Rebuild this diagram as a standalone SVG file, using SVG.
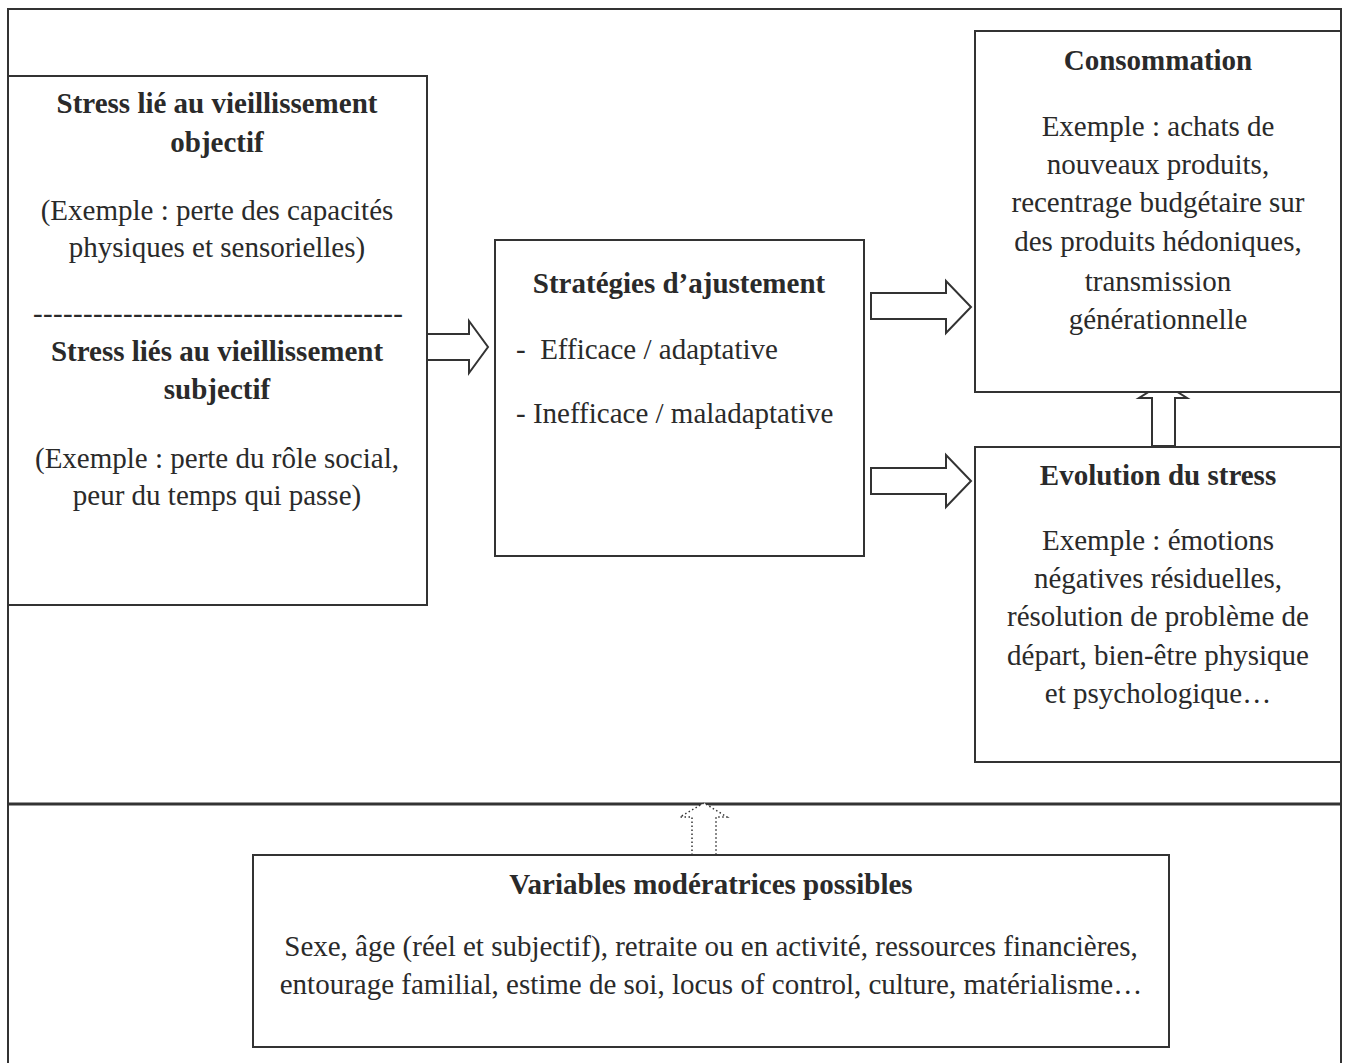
<svg xmlns="http://www.w3.org/2000/svg" width="1346" height="1063" viewBox="0 0 1346 1063">
<style>
.box{fill:#fff;stroke:#333;stroke-width:2}
.frame{fill:none;stroke:#333;stroke-width:2}
.arr{fill:#fff;stroke:#333;stroke-width:2;stroke-linejoin:miter}
.dot{fill:#fff;stroke:#333;stroke-width:1.5;stroke-dasharray:1.5 2.5}
text{font-family:"Liberation Serif","Times New Roman",serif;font-size:29px;fill:#2a2a2a}
.b{font-weight:bold}
.c{text-anchor:middle}
</style>
<rect width="1346" height="1063" fill="#fff"/>
<g id="frame">
<path class="frame" d="M8,1063 V9 H1341 V1063"/>
<line x1="8" y1="804" x2="1341" y2="804" stroke="#333" stroke-width="3"/>
</g>
<g id="connectors">
<polygon class="arr" points="412,334 469,334 469,321 488,347 469,373 469,360 412,360"/>
<polygon class="arr" points="871,293 946,293 946,281 971,307 946,333 946,319 871,319"/>
<polygon class="arr" points="871,468 946,468 946,455 971,481 946,507 946,494 871,494"/>
<polygon class="arr" points="1152,446 1152,398 1139,398 1163,383 1187,398 1175,398 1175,446"/>
<polygon class="dot" points="692,855 692,817 680,817 704,803 727,817 716,817 716,855"/>
</g>
<g id="stress">
<rect class="box" x="8" y="76" width="419" height="529"/>
<text class="b c" x="217" y="113">Stress lié au vieillissement</text>
<text class="b c" x="217" y="152">objectif</text>
<text class="c" x="217" y="220">(Exemple : perte des capacités</text>
<text class="c" x="217" y="257">physiques et sensorielles)</text>
<text x="33" y="323" textLength="370" lengthAdjust="spacing">-------------------------------------</text>
<text class="b c" x="217" y="361">Stress liés au vieillissement</text>
<text class="b c" x="217" y="399">subjectif</text>
<text class="c" x="217" y="468">(Exemple : perte du rôle social,</text>
<text class="c" x="217" y="505">peur du temps qui passe)</text>
</g>
<g id="strategies">
<rect class="box" x="495" y="240" width="369" height="316"/>
<text class="b c" x="679" y="293">Stratégies d’ajustement</text>
<text x="516" y="359" xml:space="preserve">-  Efficace / adaptative</text>
<text x="516" y="423">- Inefficace / maladaptative</text>
</g>
<g id="consommation">
<rect class="box" x="975" y="31" width="366" height="361"/>
<text class="b c" x="1158" y="70">Consommation</text>
<text class="c" x="1158" y="136">Exemple : achats de</text>
<text class="c" x="1158" y="174">nouveaux produits,</text>
<text class="c" x="1158" y="212">recentrage budgétaire sur</text>
<text class="c" x="1158" y="251">des produits hédoniques,</text>
<text class="c" x="1158" y="291">transmission</text>
<text class="c" x="1158" y="329">générationnelle</text>
</g>
<g id="evolution">
<rect class="box" x="975" y="447" width="366" height="315"/>
<text class="b c" x="1158" y="485">Evolution du stress</text>
<text class="c" x="1158" y="550">Exemple : émotions</text>
<text class="c" x="1158" y="588">négatives résiduelles,</text>
<text class="c" x="1158" y="626">résolution de problème de</text>
<text class="c" x="1158" y="665">départ, bien-être physique</text>
<text class="c" x="1158" y="703">et psychologique…</text>
</g>
<g id="variables">
<rect class="box" x="253" y="855" width="916" height="192"/>
<text class="b c" x="711" y="894">Variables modératrices possibles</text>
<text class="c" x="711" y="956">Sexe, âge (réel et subjectif), retraite ou en activité, ressources financières,</text>
<text class="c" x="711" y="994">entourage familial, estime de soi, locus of control, culture, matérialisme…</text>
</g>
</svg>
